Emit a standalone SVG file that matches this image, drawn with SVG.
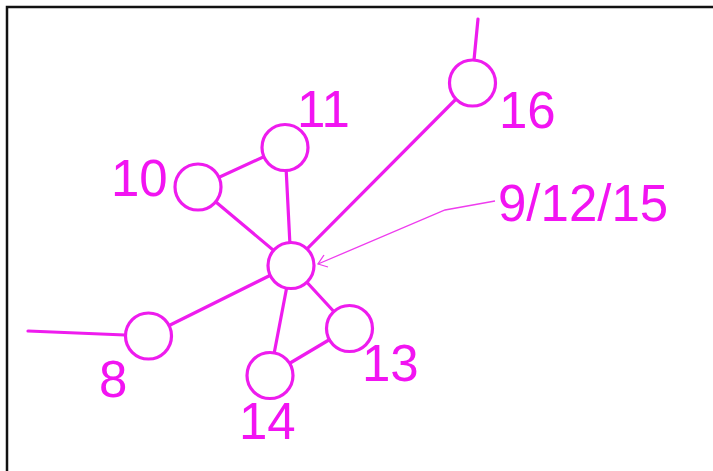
<svg xmlns="http://www.w3.org/2000/svg" width="713" height="471" viewBox="0 0 713 471">
<style>
.n{fill:#fff;stroke:#ee1cee;stroke-width:3.2}
.e{stroke:#ee1cee;stroke-width:3.2;fill:none;stroke-linecap:round}
.t{font-family:"Liberation Sans",Arial,sans-serif;font-size:51px;fill:#f214f2}
.a{stroke:#ee3cee;stroke-width:1.3;fill:none}
</style>
<rect width="713" height="471" fill="#fff"/>
<path d="M7 471V7H713" fill="none" stroke="#111" stroke-width="2.5"/>
<g id="connectors">
<line class="e" x1="478" y1="19" x2="474" y2="60"/>
<line class="e" x1="28" y1="331" x2="125" y2="335"/>
<line class="e" x1="198" y1="187" x2="285" y2="147"/>
<line class="e" x1="198" y1="187" x2="291" y2="265"/>
<line class="e" x1="285" y1="147" x2="291" y2="265"/>
<line class="e" x1="472" y1="83" x2="291" y2="265"/>
<line class="e" x1="148" y1="336" x2="291" y2="265"/>
<line class="e" x1="270" y1="375" x2="291" y2="265"/>
<line class="e" x1="349" y1="328" x2="291" y2="265"/>
<line class="e" x1="270" y1="375" x2="349" y2="328"/>
<polyline class="a" points="495,201 445,210 318,264"/>
<polyline class="a" points="324,255 318,264 328,267"/>
</g>
<g id="n16"><circle class="n" cx="472.5" cy="83" r="23"/><text class="t" x="499" y="128">16</text></g>
<g id="n11"><circle class="n" cx="285" cy="147.5" r="23"/><text class="t" x="297" y="127">11</text></g>
<g id="n10"><circle class="n" cx="198" cy="187" r="23"/><text class="t" x="111" y="196">10</text></g>
<g id="n9"><circle class="n" cx="291" cy="265.5" r="23"/><text class="t" x="498" y="221">9/12/15</text></g>
<g id="n13"><circle class="n" cx="349.5" cy="328.5" r="23"/><text class="t" x="362" y="381">13</text></g>
<g id="n14"><circle class="n" cx="270" cy="375.5" r="23"/><text class="t" x="239" y="439">14</text></g>
<g id="n8"><circle class="n" cx="148.5" cy="336" r="23"/><text class="t" x="99" y="397">8</text></g>
</svg>
